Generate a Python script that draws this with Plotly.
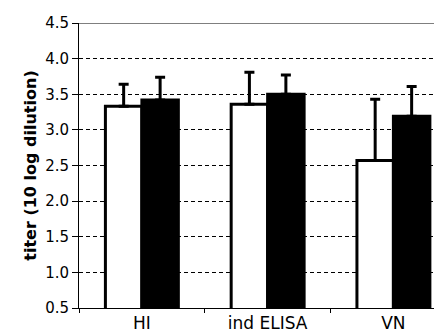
import plotly.graph_objects as go

categories = ["HI", "ind ELISA", "VN"]
white_mean = [3.33, 3.36, 2.57]
white_err = [0.31, 0.45, 0.86]
black_mean = [3.42, 3.50, 3.19]
black_err = [0.32, 0.27, 0.42]
y_ticks = [0.5, 1.0, 1.5, 2.0, 2.5, 3.0, 3.5, 4.0, 4.5]

font = "DejaVu Sans, Liberation Sans, Arial, sans-serif"

fig = go.Figure()
fig.add_trace(go.Bar(
    x=categories, y=white_mean, name="white",
    marker=dict(color="white", line=dict(color="black", width=3)),
    error_y=dict(type="data", array=white_err, arrayminus=[0, 0, 0], symmetric=False,
                 color="black", thickness=3, width=5),
))
fig.add_trace(go.Bar(
    x=categories, y=black_mean, name="black",
    marker=dict(color="black", line=dict(color="black", width=3)),
    error_y=dict(type="data", array=black_err, arrayminus=[0, 0, 0], symmetric=False,
                 color="black", thickness=3, width=5),
))

fig.update_layout(
    width=442, height=336,
    margin=dict(l=71, r=0, t=15, b=36, autoexpand=False),
    paper_bgcolor="white", plot_bgcolor="white",
    barmode="group", bargap=0.42, bargroupgap=0,
    showlegend=False,
    font=dict(family=font, size=15, color="black"),
    xaxis=dict(
        type="category", range=[-0.5, 2.45],
        showline=True, linecolor="black", linewidth=1,
        ticks="outside", tickson="boundaries", ticklen=4, tickcolor="black",
        showgrid=False, tickfont=dict(size=17),
    ),
    yaxis=dict(
        range=[0.5, 4.5], tickvals=y_ticks, tickformat=".1f",
        showline=True, linecolor="black", linewidth=1,
        ticks="outside", ticklen=6, tickcolor="black",
        showgrid=True, gridcolor="black", gridwidth=1, griddash="4px,3px",
        zeroline=False, tickfont=dict(size=15),
        title=dict(text="<b>titer (10 log dilution)</b>", font=dict(size=16), standoff=4),
    ),
    shapes=[dict(type="line", xref="paper", yref="y", x0=0, x1=1, y0=4.5, y1=4.5,
                 line=dict(color="black", width=1))],
)

fig.write_html("out.html")
